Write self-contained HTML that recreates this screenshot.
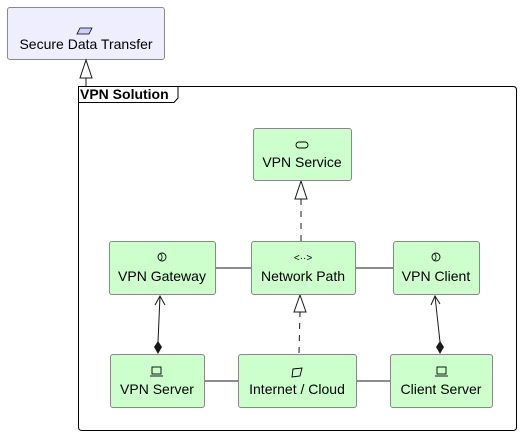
<!DOCTYPE html>
<html><head><meta charset="utf-8"><style>
html,body{margin:0;padding:0;background:#fff;width:521px;height:436px;overflow:hidden}
text{font-family:"Liberation Sans",sans-serif;font-size:14px;fill:#000}
</style></head><body>
<svg width="521" height="436" viewBox="0 0 521 436" xmlns="http://www.w3.org/2000/svg">
<rect x="7.5" y="7.5" width="157" height="52" rx="2.5" fill="#EEEEFF" stroke="#888" stroke-width="1"/>
<polygon points="80,28 92,28 89,34 77,34" fill="#ccccff" stroke="#000" stroke-width="0.8"/>
<text x="86" y="49" text-anchor="middle">Secure Data Transfer</text>
<line x1="86" y1="86" x2="86" y2="78" stroke="#181818"/>
<polygon points="86,60 80,78 92,78" fill="#fff" stroke="#181818"/>
<path d="M78.5,86.5 H513 Q516.5,86.5 516.5,90 V427 Q516.5,430.5 513,430.5 H82 Q78.5,430.5 78.5,427 Z" fill="none" stroke="#000"/>
<path d="M78.5,102.5 H174 L178,98 V86.5" fill="none" stroke="#000"/>
<text x="80" y="99" style="font-weight:bold;font-size:14px">VPN Solution</text>
<line x1="215" y1="268" x2="251" y2="268" stroke="#181818"/>
<line x1="355" y1="268" x2="393" y2="268" stroke="#181818"/>
<line x1="204" y1="381" x2="238" y2="381" stroke="#181818"/>
<line x1="356" y1="381" x2="390" y2="381" stroke="#181818"/>
<line x1="301" y1="241" x2="301" y2="199" stroke="#181818" stroke-dasharray="6,6"/>
<polygon points="301,181 295,199 307,199" fill="#fff" stroke="#181818"/>
<line x1="299" y1="353" x2="300" y2="312" stroke="#181818" stroke-dasharray="6,6"/>
<polygon points="300,295 294,312 306,312" fill="#fff" stroke="#181818"/>
<line x1="160" y1="296" x2="158" y2="342" stroke="#181818"/>
<polyline points="155,305 160,296 165,305" fill="none" stroke="#181818"/>
<polygon points="158,341 162,347 158,354 154,347" fill="#181818"/>
<line x1="435" y1="296" x2="440" y2="342" stroke="#181818"/>
<polyline points="431,305 435,296 440,304" fill="none" stroke="#181818"/>
<polygon points="440,341 444,347 440,354 436,347" fill="#181818"/>
<g fill="#CCFFCC" stroke="#888" stroke-width="1">
<rect x="253.5" y="128.5" width="98" height="52" rx="2.5"/>
<rect x="109.5" y="241.5" width="106" height="53" rx="2.5"/>
<rect x="251.5" y="241.5" width="104" height="53" rx="2.5"/>
<rect x="393.5" y="241.5" width="86" height="53" rx="2.5"/>
<rect x="110.5" y="354.5" width="94" height="53" rx="2.5"/>
<rect x="238.5" y="354.5" width="118" height="53" rx="2.5"/>
<rect x="390.5" y="354.5" width="102" height="53" rx="2.5"/>
</g>
<rect x="296" y="142" width="12" height="6" rx="3" fill="none" stroke="#000" stroke-width="0.9"/>
<circle cx="162" cy="257" r="4" fill="none" stroke="#000" stroke-width="0.9"/><path d="M160,253.5 A4,4 0 0 1 160,260.5" fill="none" stroke="#000" stroke-width="0.8"/>
<circle cx="436" cy="257" r="4" fill="none" stroke="#000" stroke-width="0.9"/><path d="M434,253.5 A4,4 0 0 1 434,260.5" fill="none" stroke="#000" stroke-width="0.8"/>
<text x="303" y="261" text-anchor="middle" style="font-size:10px">&lt;··&gt;</text>
<g fill="none" stroke="#000" stroke-width="0.9">
<rect x="152" y="367" width="9" height="7"/><line x1="150" y1="376" x2="163" y2="376"/>
<rect x="437" y="367" width="9" height="7"/><line x1="435" y1="376" x2="448" y2="376"/>
<path d="M293,369 L302,368 L300,376 L292,377 Z"/>
</g>
<text x="302" y="167" text-anchor="middle">VPN Service</text>
<text x="162" y="281" text-anchor="middle">VPN Gateway</text>
<text x="303" y="281" text-anchor="middle">Network Path</text>
<text x="436" y="281" text-anchor="middle">VPN Client</text>
<text x="157" y="394" text-anchor="middle">VPN Server</text>
<text x="297" y="394" text-anchor="middle">Internet / Cloud</text>
<text x="441" y="394" text-anchor="middle">Client Server</text>
</svg>
</body></html>
